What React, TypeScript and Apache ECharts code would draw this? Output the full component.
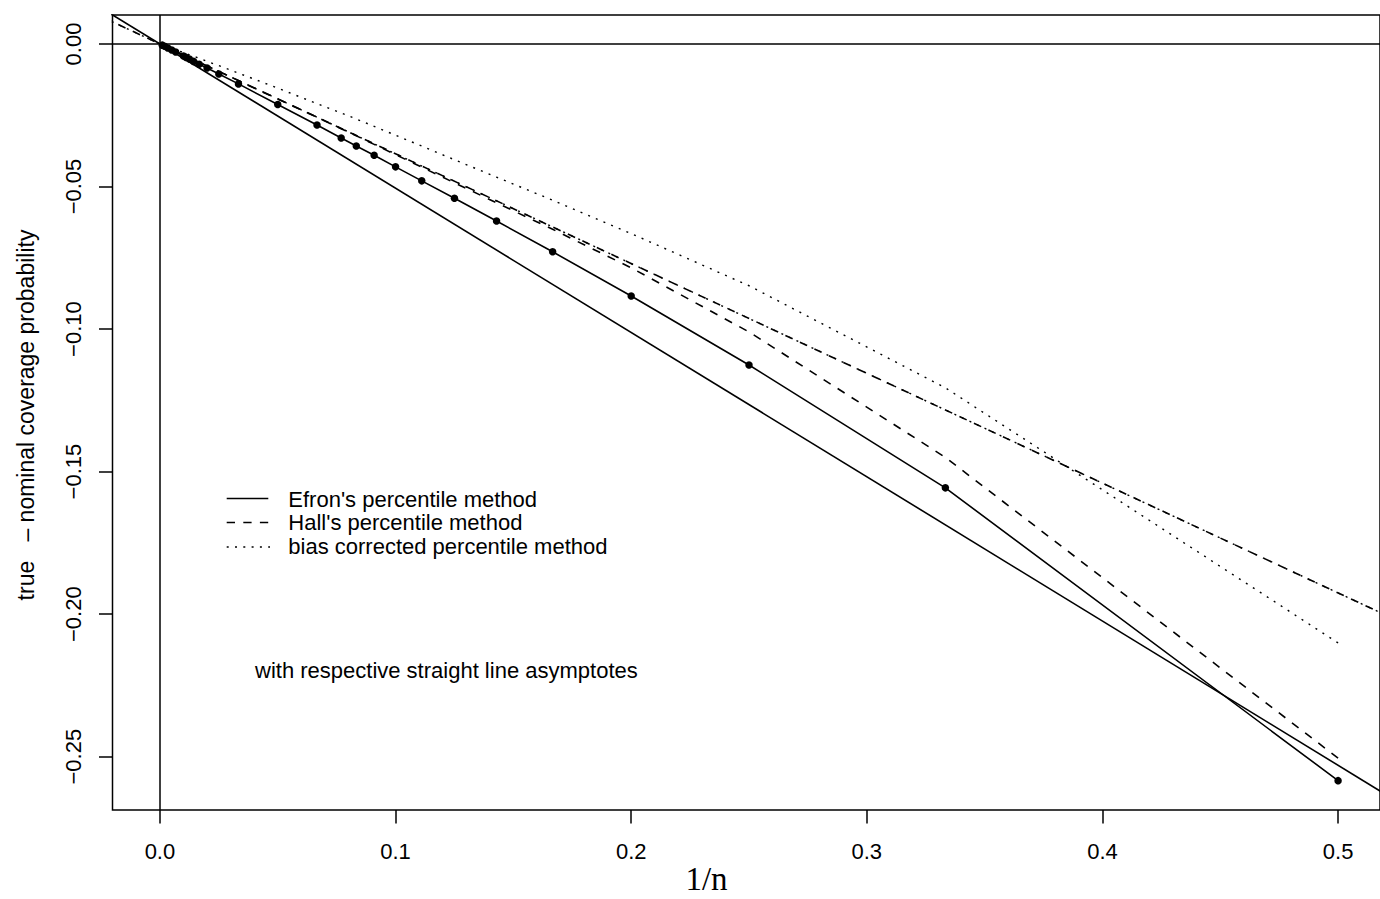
import React, { useEffect, useRef } from "react";
import * as echarts from "echarts";

// sample sizes n; x = 1/n
const nValues = [2, 3, 4, 5, 6, 7, 8, 9, 10, 11, 12, 13, 15, 20, 30, 40, 50, 60, 70, 80, 90, 100, 150, 200, 300, 500, 1000];

// true - nominal coverage probability
const efronTrue = [-0.2584, -0.1557, -0.1126, -0.0884, -0.0729, -0.0621, -0.0541, -0.048, -0.0431, -0.039, -0.0358, -0.033, -0.0284, -0.0212, -0.014, -0.0105, -0.0084, -0.0071, -0.0061, -0.0053, -0.0047, -0.0042, -0.0028, -0.0021, -0.0014, -0.0008, -0.0004];
const hallTrue = [-0.2505, -0.145, -0.101, -0.0785, -0.065, -0.0557, -0.0487, -0.0432, -0.0388, -0.0352, -0.0322, -0.0297, -0.0257, -0.0193, -0.0128, -0.0096, -0.0077, -0.0064, -0.0055, -0.0048, -0.0043, -0.0038, -0.0026, -0.0019, -0.0013, -0.0008, -0.0004];
const bcTrue = [-0.2101, -0.1206, -0.0848, -0.0665, -0.0548, -0.0467, -0.0406, -0.0358, -0.032, -0.0289, -0.0263, -0.0242, -0.0209, -0.0155, -0.0102, -0.0076, -0.0061, -0.005, -0.0043, -0.0038, -0.0034, -0.003, -0.002, -0.0015, -0.001, -0.0006, -0.0003];

// straight line asymptotes (end points)
const asymX = [-0.03, 0.53];
const efronAsym = [0.0152, -0.2682];
const hallAsym = [0.01155, -0.2041];
const bcAsym = [0.01155, -0.2041];

const xTicks = [0, 0.1, 0.2, 0.3, 0.4, 0.5];
const yTicks = [0, -0.05, -0.1, -0.15, -0.2, -0.25];

const legendLabels = ["Efron's percentile method", "Hall's percentile method", "bias corrected percentile method"];
const noteText = "with respective straight line asymptotes";
const yName = "true   \u2013 nominal coverage probability";
const xName = "1/n";

const SANS = "'Liberation Sans', Arial, Helvetica, sans-serif";
const SERIF = "'Liberation Serif', 'Times New Roman', serif";

const pairs = (xs: number[], ys: number[]) => xs.map((x, i) => [x, ys[i]]);

export default function App() {
  const ref = useRef<HTMLDivElement>(null);
  useEffect(() => {
    if (!ref.current) return;
    const chart = echarts.init(ref.current, undefined, { renderer: "svg" });
    const invN = nValues.map((n) => 1 / n);
    const black = "#000";
    const lw = 1.6;
    const option: any = {
      animation: false,
      backgroundColor: "#fff",
      textStyle: { fontFamily: SANS },
      grid: {
        left: 112.5,
        top: 15,
        width: 1269.5,
        height: 795,
        show: true,
        borderColor: black,
        borderWidth: 1.5,
        backgroundColor: "transparent",
      },
      xAxis: {
        type: "value",
        min: -0.020127,
        max: 0.51779,
        axisLine: { show: false, onZero: false },
        splitLine: { show: false },
        axisTick: { show: true, length: 13.5, lineStyle: { color: black, width: 1.5 }, customValues: xTicks },
        axisLabel: {
          customValues: xTicks,
          margin: 30,
          fontSize: 22,
          lineHeight: 22,
          color: black,
          fontFamily: SANS,
          formatter: (v: number) => v.toFixed(1),
        },
      },
      yAxis: {
        type: "value",
        min: -0.2687,
        max: 0.010173,
        axisLine: { show: false, onZero: false },
        splitLine: { show: false },
        axisTick: { show: true, length: 13.5, lineStyle: { color: black, width: 1.5 }, customValues: yTicks },
        axisLabel: {
          customValues: yTicks,
          rotate: 90,
          margin: 28,
          fontSize: 22,
          lineHeight: 22,
          color: black,
          fontFamily: SANS,
          formatter: (v: number) => v.toFixed(2).replace("-", "\u2212"),
        },
      },
      series: [
        {
          name: "Efron asymptote",
          type: "line",
          data: pairs(asymX, efronAsym),
          showSymbol: false,
          symbol: "none",
          clip: true,
          lineStyle: { color: black, width: lw, type: "solid" },
          markLine: {
            silent: true,
            symbol: ["none", "none"],
            label: { show: false },
            lineStyle: { color: black, width: 1.5, type: "solid" },
            data: [{ yAxis: 0 }, { xAxis: 0 }],
          },
        },
        {
          name: "Hall asymptote",
          type: "line",
          data: pairs(asymX, hallAsym),
          symbol: "none",
          clip: true,
          lineStyle: { color: black, width: lw, type: [8, 8] },
        },
        {
          name: "BC asymptote",
          type: "line",
          data: pairs(asymX, bcAsym),
          symbol: "none",
          clip: true,
          lineStyle: { color: black, width: 1.4, type: [2, 6.3] },
        },
        {
          name: legendLabels[1],
          type: "line",
          data: pairs(invN, hallTrue),
          symbol: "none",
          clip: true,
          lineStyle: { color: black, width: lw, type: [8.3, 8.3] },
        },
        {
          name: legendLabels[2],
          type: "line",
          data: pairs(invN, bcTrue),
          symbol: "none",
          clip: true,
          lineStyle: { color: black, width: 1.4, type: [2, 6.3] },
        },
        {
          name: legendLabels[0],
          type: "line",
          data: pairs(invN, efronTrue),
          symbol: "circle",
          symbolSize: 7.5,
          showSymbol: true,
          showAllSymbol: true,
          clip: true,
          itemStyle: { color: black, borderWidth: 0 },
          lineStyle: { color: black, width: lw, type: "solid" },
        },
      ],
      graphic: [
        {
          type: "text",
          x: 25.5,
          y: 415,
          rotation: Math.PI / 2,
          style: { text: yName, fontSize: 23, fontFamily: SANS, fill: black, align: "center", verticalAlign: "middle" },
        },
        {
          type: "text",
          x: 706.5,
          y: 879,
          style: { text: xName, fontSize: 33, fontFamily: SERIF, fill: black, align: "center", verticalAlign: "middle" },
        },
        { type: "line", shape: { x1: 226.7, y1: 498.5, x2: 268.3, y2: 498.5 }, style: { stroke: black, lineWidth: lw } },
        { type: "line", shape: { x1: 226.7, y1: 522.5, x2: 268.3, y2: 522.5 }, style: { stroke: black, lineWidth: lw, lineDash: [8.3, 8.3] } },
        { type: "line", shape: { x1: 226.7, y1: 547, x2: 270, y2: 547 }, style: { stroke: black, lineWidth: 1.4, lineDash: [2, 6.3] } },
        ...legendLabels.map((t, i) => ({
          type: "text",
          x: 288.3,
          y: [499, 522.5, 546][i],
          style: { text: t, fontSize: 22, fontFamily: SANS, fill: black, align: "left", verticalAlign: "middle" },
        })),
        {
          type: "text",
          x: 255,
          y: 670,
          style: { text: noteText, fontSize: 22, fontFamily: SANS, fill: black, align: "left", verticalAlign: "middle" },
        },
      ],
    };
    chart.setOption(option);
    return () => chart.dispose();
  }, []);
  return (
    <div
      ref={ref}
      style={{ position: "absolute", left: 0, top: 0, width: 1380, height: 899, background: "#fff" }}
    />
  );
}
